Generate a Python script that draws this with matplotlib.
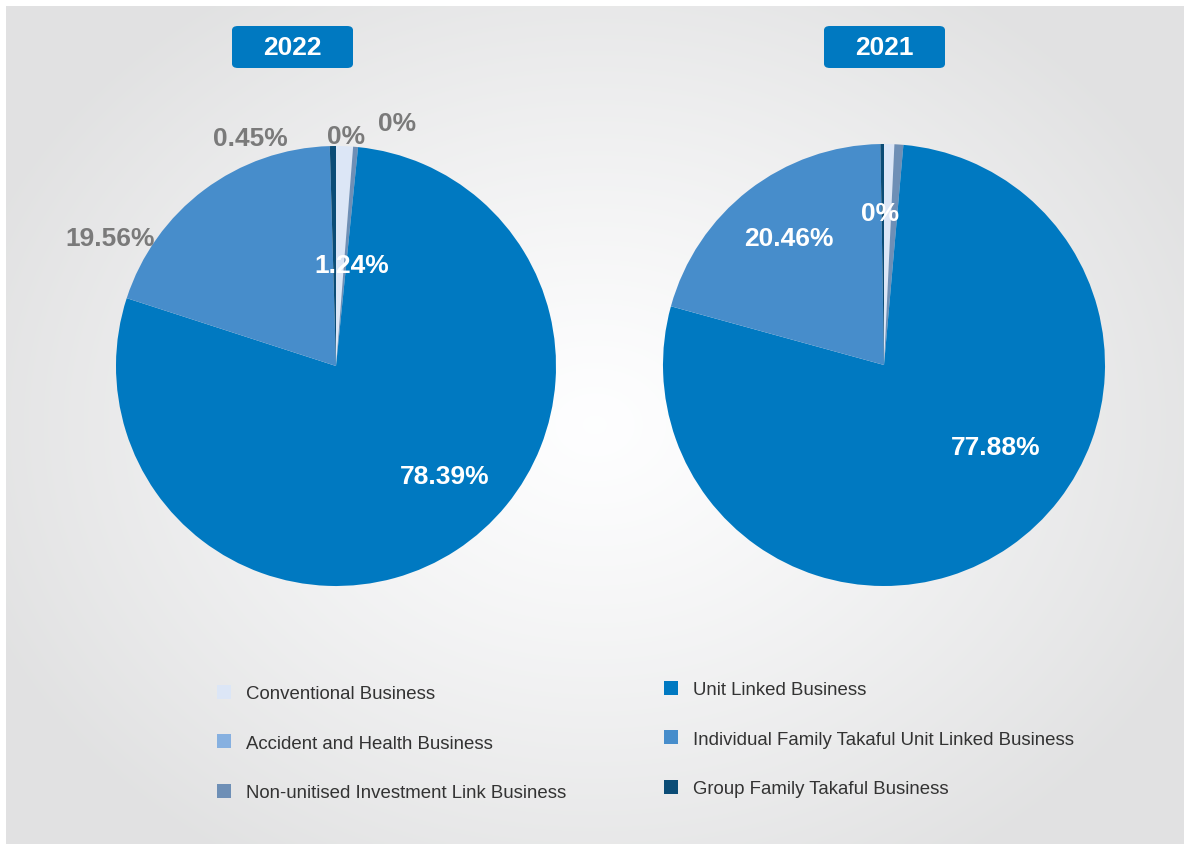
import numpy as np
import matplotlib
matplotlib.use("Agg")
import matplotlib.pyplot as plt
from matplotlib.patches import FancyBboxPatch, Patch

plt.rcParams['font.family'] = ['Liberation Sans', 'DejaVu Sans']

categories = ["Conventional Business", "Accident and Health Business",
              "Non-unitised Investment Link Business", "Unit Linked Business",
              "Individual Family Takaful Unit Linked Business", "Group Family Takaful Business"]
colors = ["#dce6f6", "#86b0e0", "#6e8fb6", "#0079c1", "#478dcb", "#0b4c76"]

years = ["2022", "2021"]
values_2022 = [1.24, 0.0, 0.36, 78.39, 19.56, 0.45]
values_2021 = [0.75, 0.0, 0.65, 77.88, 20.46, 0.26]
labels_2022 = ["1.24%", "0%", "0%", "78.39%", "19.56%", "0.45%"]
labels_2021 = ["0%", "", "", "77.88%", "20.46%", ""]

# label positions (in pie-radius units) and colours
lab_pos_2022 = [(0.073, 0.46), (0.045, 1.047), (0.277, 1.106), (0.495, -0.498), (-1.027, 0.582), (-0.39, 1.037)]
lab_col_2022 = ["white", "#7a7a7a", "#7a7a7a", "white", "#7a7a7a", "#7a7a7a"]
lab_pos_2021 = [(-0.018, 0.687), (0, 0), (0, 0), (0.505, -0.372), (-0.432, 0.574), (0, 0)]
lab_col_2021 = ["white", "white", "white", "white", "white", "white"]

W, H = 1184, 845
fig = plt.figure(figsize=(W / 100, H / 100), dpi=100)
fig.patch.set_facecolor("white")

# background radial gradient
bg = fig.add_axes([6 / W, 0, 1 - 6 / W, 1 - 7 / H])
yy, xx = np.mgrid[-1:1:400j, -1:1:560j]
r = np.sqrt((xx * 0.95) ** 2 + (yy * 0.85) ** 2)
g = np.clip(1 - 0.105 * np.minimum(r, 1.05) ** 1.2, 0, 1)
img = np.dstack([g * 0.996, g * 0.997, g])
bg.imshow(img, aspect="auto", extent=[0, 1, 0, 1], interpolation="bilinear")
bg.axis("off")

def px_axes(cx, cy, R):
    return fig.add_axes([(cx - R) / W, (H - cy - R) / H, 2 * R / W, 2 * R / H])

def draw_pie(ax, vals, labels, pos, cols):
    ax.pie(vals, colors=colors, startangle=90, counterclock=False, radius=1,
           wedgeprops=dict(linewidth=0))
    for lab, (x, y), c in zip(labels, pos, cols):
        if lab:
            ax.text(x, y, lab, ha="center", va="center", color=c,
                    fontsize=19, fontweight="bold", clip_on=False)
    ax.set_xlim(-1, 1)
    ax.set_ylim(-1, 1)
    ax.set_aspect("equal")
    ax.axis("off")

ax1 = px_axes(336, 367, 220)
draw_pie(ax1, values_2022, labels_2022, lab_pos_2022, lab_col_2022)
ax2 = px_axes(884, 366, 221)
draw_pie(ax2, values_2021, labels_2021, lab_pos_2021, lab_col_2021)

# year boxes
for yr, (x0, x1) in zip(years, [(232, 353), (824, 945)]):
    y0, y1 = 27, 69
    box = FancyBboxPatch((x0 / W, 1 - y1 / H), (x1 - x0) / W, (y1 - y0) / H,
                         boxstyle="round,pad=0,rounding_size=0.005",
                         transform=fig.transFigure, facecolor="#0079c1",
                         edgecolor="none")
    fig.patches.append(box)
    fig.text((x0 + x1) / 2 / W, 1 - (y0 + y1) / 2 / H, yr, ha="center", va="center",
             color="white", fontsize=19, fontweight="bold")

handles = [Patch(facecolor=c, edgecolor="none") for c in colors]
leg_kw = dict(frameon=False, fontsize=13.4, labelspacing=1.72, handlelength=0.76,
              handleheight=0.76, handletextpad=0.8, borderpad=0, borderaxespad=0,
              labelcolor="#333333")
l1 = fig.legend(handles[:3], categories[:3], loc="upper left",
                bbox_to_anchor=(217 / W, 1 - 686 / H), **leg_kw)
l2 = fig.legend(handles[3:], categories[3:], loc="upper left",
                bbox_to_anchor=(664 / W, 1 - 682 / H), **leg_kw)

fig.savefig("out.png", dpi=100)
